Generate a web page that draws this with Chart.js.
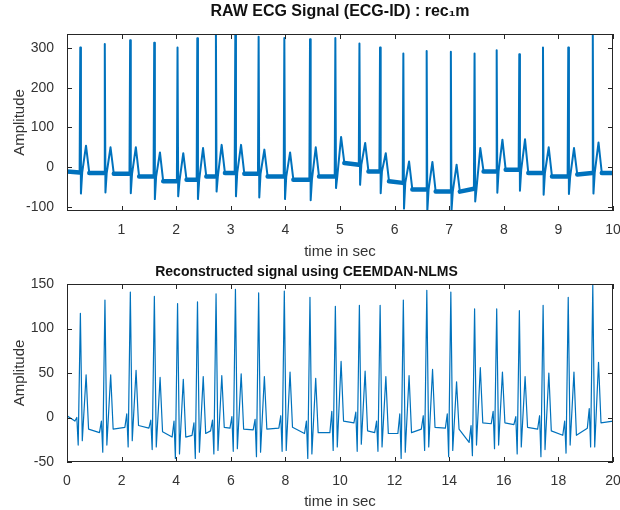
<!DOCTYPE html>
<html>
<head>
<meta charset="utf-8">
<title>ECG raw vs reconstructed</title>
<script src="https://cdn.jsdelivr.net/npm/chart.js@4.4.1/dist/chart.umd.min.js"></script>
<style>
  html, body { margin: 0; padding: 0; background: #fff; }
  #wrap { position: relative; width: 620px; height: 510px; }
  .panel { position: absolute; left: 0; width: 620px; }
  #top { top: 0; height: 260px; }
  #bottom { top: 260px; height: 250px; }
</style>
</head>
<body>
<div id="wrap">
  <div class="panel" id="top"><canvas id="rawChart"></canvas></div>
  <div class="panel" id="bottom"><canvas id="recChart"></canvas></div>
</div>
<script>
// ===== data =====

// --- top panel: raw ECG, one entry per heartbeat ---
const rawRTime = [0.245, 0.694, 1.158, 1.599, 2.026, 2.388, 2.729, 3.084, 3.511, 3.982, 4.452, 4.916,
                  5.357, 5.734, 6.161, 6.588, 7.031, 7.465, 7.870, 8.284, 8.718, 9.181, 9.630];
const rawR    = [302, 311, 320, 314, 302, 325, 336, 336, 329, 326, 323, 326, 312, 302, 287, 293, 291, 287, 295, 285, 302, 302, 334];
const rawS    = [-67, -64, -66, -81, -74, -81, -62, -74, -77, -81, -84, -53, -45, -66, -105, -111, -110, -87, -65, -60, -70, -68, -67];
const rawT    = [54, 50, 50, 37, 35, 48, 56, 56, 44, 37, 50, 76, 61, 35, 14, 13, 6, 48, 69, 70, 50, 48, 62];
const rawPre  = [-14, -15, -17, -24, -36, -32, -24, -15, -17, -24, -32, -24, 6, -11, -40, -57, -62, -55, -11, -7, -15, -24, -15];
const rawPost = [-15, -17, -24, -36, -32, -24, -15, -17, -24, -32, -24, 10, -11, -36, -57, -62, -62, -11, -7, -15, -24, -19, -15];
const rawEnds = [-11, -15];                 // value at first / last sample
const rawOffsets = [-0.012, 0, 0.012, 0.035, 0.105, 0.165]; // beat shape (s from R peak)
const rawXTicks = [1, 2, 3, 4, 5, 6, 7, 8, 9, 10];
const rawYTicks = [-100, 0, 100, 200, 300];

// --- bottom panel: CEEMDAN-NLMS reconstruction ---
const recRTime = [0.49, 1.39, 2.32, 3.20, 4.05, 4.78, 5.46, 6.17, 7.02, 7.96, 8.90, 9.83,
                  10.71, 11.47, 12.32, 13.18, 14.06, 14.93, 15.74, 16.57, 17.44, 18.36, 19.26];
const recPre  = [-4, -17, -11, -12, -22, -20, -15, -12, -14, -12, -18, -17, -6, -17, -18, -13, -12, -28, -7, -8, -13, -20, -12];
const recBump = [0, -4, 4, -3, -4, -6, -3, 1, -2, 2, -4, 7, 6, -4, 4, 2, 4, -9, 7, 1, 2, -4, 10];
const recQ    = [-31, -39, -33, -36, -46, -46, -41, -38, -44, -38, -46, -37, -38, -38, -46, -37, -44, -43, -35, -41, -44, -40, -33];
const recR    = [117, 132, 141, 136, 128, 130, 139, 144, 140, 142, 135, 125, 126, 126, 132, 143, 141, 122, 122, 120, 126, 135, 149];
const recS    = [-26, -31, -26, -33, -41, -39, -37, -35, -39, -37, -41, -33, -30, -33, -39, -33, -37, -31, -31, -33, -36, -31, -33];
const recT    = [48, 48, 53, 45, 43, 46, 47, 49, 46, 51, 44, 63, 52, 46, 47, 54, 40, 56, 51, 46, 50, 51, 62];
const recPost = [-13, -13, -9, -16, -22, -18, -11, -13, -13, -11, -17, -4, -15, -18, -17, -11, -13, -6, -6, -11, -15, -20, -6];
const recEnds = [2, -4];
const recOffsets = [-0.2, -0.13, -0.08, 0, 0.07, 0.21, 0.30];
const recXTicks = [0, 2, 4, 6, 8, 10, 12, 14, 16, 18, 20];
const recYTicks = [-50, 0, 50, 100, 150];

// ===== build point lists =====
function buildRaw() {
  const pts = [{ x: 0.002, y: rawEnds[0] }];
  rawRTime.forEach((t, i) => {
    const vals = [rawPre[i], rawR[i], rawS[i], rawPre[i], rawT[i], rawPost[i]];
    rawOffsets.forEach((dt, k) => pts.push({ x: t + dt, y: vals[k] }));
  });
  pts.push({ x: 10, y: rawEnds[1] });
  return pts;
}

// the noisy baseline between beats, drawn as a wider stroke
function buildRawBand() {
  const first = rawOffsets[0], last = rawOffsets[rawOffsets.length - 1];
  const pts = [{ x: 0.002, y: rawEnds[0] }, { x: rawRTime[0] + first, y: rawPre[0] }, { x: rawRTime[0], y: null }];
  rawRTime.forEach((t, i) => {
    pts.push({ x: t + last - 0.03, y: null });
    pts.push({ x: t + last, y: rawPost[i] });
    if (i + 1 < rawRTime.length) {
      pts.push({ x: rawRTime[i + 1] + first, y: rawPre[i + 1] });
      pts.push({ x: rawRTime[i + 1], y: null });
    } else {
      pts.push({ x: 10, y: rawEnds[1] });
    }
  });
  return pts;
}

function buildRec() {
  const pts = [{ x: 0, y: recEnds[0] }];
  recRTime.forEach((t, i) => {
    const vals = [recPre[i], recBump[i], recQ[i], recR[i], recS[i], recT[i], recPost[i]];
    recOffsets.forEach((dt, k) => pts.push({ x: t + dt, y: vals[k] }));
  });
  pts.push({ x: 20, y: recEnds[1] });
  return pts;
}

// ===== look & feel =====
Chart.defaults.font.family = "'Liberation Sans', Arial, Helvetica, sans-serif";
Chart.defaults.color = '#333';
const LINE = '#0072BD';
const AXIS = '#262626';

// MATLAB-like box with inward ticks on every side
const axesBox = {
  id: 'axesBox',
  afterDraw(chart) {
    const { ctx, chartArea: a, scales: { x, y } } = chart;
    const len = 5;
    ctx.save();
    ctx.strokeStyle = AXIS;
    ctx.lineWidth = 1;
    ctx.strokeRect(Math.round(a.left) + 0.5, Math.round(a.top) + 0.5,
                   Math.round(a.width) - 1, Math.round(a.height) - 1);
    ctx.beginPath();
    x.ticks.forEach(t => {
      const px = Math.round(x.getPixelForValue(t.value)) + 0.5;
      ctx.moveTo(px, a.bottom); ctx.lineTo(px, a.bottom - len);
      ctx.moveTo(px, a.top); ctx.lineTo(px, a.top + len);
    });
    y.ticks.forEach(t => {
      const py = Math.round(y.getPixelForValue(t.value)) + 0.5;
      ctx.moveTo(a.left, py); ctx.lineTo(a.left + len, py);
      ctx.moveTo(a.right, py); ctx.lineTo(a.right - len, py);
    });
    ctx.stroke();
    ctx.restore();
  }
};

function lineSet(points, width) {
  return {
    data: points,
    borderColor: LINE,
    borderWidth: width,
    borderJoinStyle: 'round',
    borderCapStyle: 'round',
    pointRadius: 0,
    tension: 0,
    spanGaps: false,
    fill: false
  };
}

function makeChart(id, o) {
  return new Chart(document.getElementById(id), {
    type: 'line',
    data: { datasets: o.datasets },
    options: {
      responsive: true,
      maintainAspectRatio: false,
      animation: false,
      parsing: false,
      layout: { padding: { left: 0, right: 7, top: 0, bottom: 0 } },
      plugins: {
        legend: { display: false },
        tooltip: { enabled: false },
        title: {
          display: true,
          text: o.title,
          color: '#111',
          fullSize: o.titleFull,
          font: { size: o.titleSize, weight: 'bold' },
          padding: o.titlePad
        }
      },
      scales: {
        x: {
          type: 'linear',
          min: o.xMin, max: o.xMax,
          grid: { display: false },
          border: { display: false },
          afterBuildTicks: s => { s.ticks = o.xTicks.map(v => ({ value: v })); },
          afterFit: s => { s.height = o.xHeight; s.paddingLeft = 0; s.paddingRight = 0; },
          ticks: { padding: 3, font: { size: 14 }, maxRotation: 0 },
          title: { display: true, text: 'time in sec', font: { size: 15 }, padding: { top: 0, bottom: -1 } }
        },
        y: {
          type: 'linear',
          min: o.yMin, max: o.yMax,
          grid: { display: false },
          border: { display: false },
          afterBuildTicks: s => { s.ticks = o.yTicks.map(v => ({ value: v })); },
          afterFit: s => { s.width = 67; s.paddingTop = 0; s.paddingBottom = 0; },
          ticks: { padding: 5, font: { size: 14 } },
          title: { display: true, text: 'Amplitude', font: { size: 15 }, padding: { top: 11, bottom: 0 } }
        }
      }
    },
    plugins: [axesBox]
  });
}

makeChart('rawChart', {
  datasets: [lineSet(buildRawBand(), 4.5), lineSet(buildRaw(), 2)],
  title: 'RAW ECG Signal (ECG-ID) : rec\u2081m',
  titleSize: 16,
  titleFull: false,
  titlePad: { top: 2, bottom: 12.8 },
  xMin: 0.002, xMax: 10, xTicks: rawXTicks, xHeight: 49,
  yMin: -111, yMax: 336, yTicks: rawYTicks
});

makeChart('recChart', {
  datasets: [lineSet(buildRec(), 1.2)],
  title: 'Reconstructed signal using CEEMDAN-NLMS',
  titleSize: 14,
  titleFull: true,
  titlePad: { top: 3.6, bottom: 3.6 },
  xMin: 0, xMax: 20, xTicks: recXTicks, xHeight: 48,
  yMin: -50, yMax: 150, yTicks: recYTicks
});
</script>
</body>
</html>
